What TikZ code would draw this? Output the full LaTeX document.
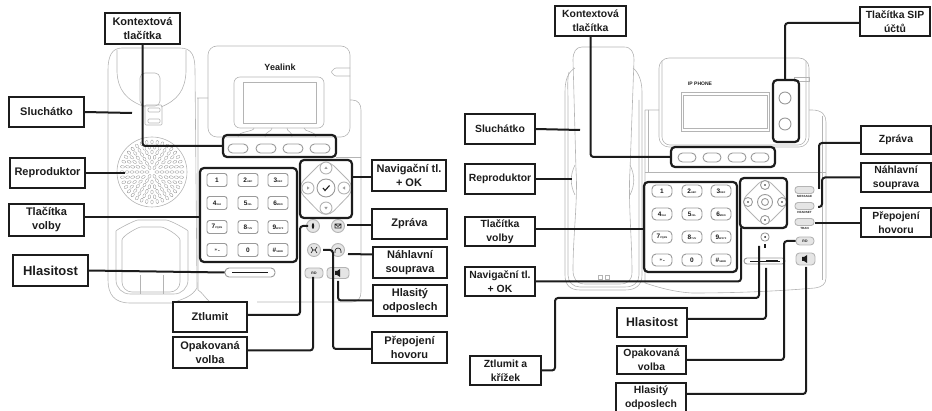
\documentclass[tikz,border=0pt]{standalone}
\usepackage{fontspec}
\setmainfont{Liberation Sans}
\usetikzlibrary{positioning}
\usetikzlibrary{calc}
\definecolor{ink}{HTML}{1C1C1C}
\definecolor{outl}{HTML}{B4B4B4}
\definecolor{keyl}{HTML}{9A9A9A}
\tikzset{
	popis/.style={draw=ink, line width=2.2pt, fill=white, text=ink, align=center, inner sep=0pt, outer sep=0pt, font=\fontsize{11}{14}\selectfont\bfseries},
	popisR/.style={popis, font=\fontsize{10.4}{14}\selectfont\bfseries},
	ramec/.style={draw=ink, line width=2.2pt, rounded corners=4pt, inner sep=0pt, outer sep=0pt},
	spoj/.style={draw=ink, line width=2pt, rounded corners=3pt},
	obrys/.style={draw=outl, line width=0.6pt},
	klavesa/.style={draw=keyl, line width=0.9pt, rounded corners=2.5pt, fill=white, inner sep=0pt, text=ink, font=\fontsize{6.5}{7}\selectfont\bfseries},
	tlac/.style={draw=keyl, line width=0.9pt, rounded corners=3.5pt, fill=white, inner sep=0pt, text=ink, font=\fontsize{3.5}{4}\selectfont\bfseries},
	kruh/.style={draw=keyl, line width=0.9pt, circle, fill=white, inner sep=0pt},
	seda/.style={fill=outl!35, draw=outl},
	znak/.style={draw=ink, line width=0.6pt},
	nadpis/.style={inner sep=0pt, text=ink, font=\fontsize{3}{3}\selectfont\bfseries},
}
\begin{document}
\begin{tikzpicture}[x=1pt,y=-1pt]
	\useasboundingbox (0,0) rectangle (932,411);

	% levy telefon - obrysy
	\draw[obrys] (122,48) -- (180,48) .. controls (192,48) and (195,56) .. (195,70) -- (197,288) .. controls (192,296) and (186,298) .. (172,303) -- (130,303) .. controls (114,303) and (108,294) .. (108,280) -- (108,70) .. controls (108,56) and (112,48) .. (122,48);
	\draw[obrys] (117,50) -- (117,72) .. controls (118,90) and (126,100) .. (145,107);
	\draw[obrys] (186,50) -- (186,72) .. controls (185,90) and (178,100) .. (161,107);
	\draw[obrys, rounded corners=5pt] (140,73) rectangle (160,106);
	\draw[obrys, rounded corners=1pt] (145,105) rectangle (162,125);
	\draw[obrys, rounded corners=1pt] (148,108) rectangle (160,112) (148,119) rectangle (160,123);
	\draw[obrys, rounded corners=14pt] (116,294) -- (116,245) .. controls (116,230) and (135,220) .. (152,220) .. controls (170,220) and (188,230) .. (188,245) -- (188,294) -- cycle;
	\draw[obrys, rounded corners=10pt] (122,292) -- (122,250) .. controls (122,236) and (138,227) .. (151,227) .. controls (165,227) and (180,236) .. (180,250) -- (180,292) -- cycle;
	\draw[obrys] (140,275) -- (140,294) (163,275) -- (163,294);
	\draw[obrys] (152,172) circle (35);
	\foreach \r/\n in {5/6,10/12,15/18,20/24,25/30,30/36}
	{\foreach \i in {1,...,\n}
		{\draw[draw=keyl, line width=0.35pt, rotate around={360/\n*\i:(152,172)}] (152+\r,172) ellipse (2.1 and 1.3);}}
	\draw[obrys] (197,98) -- (208,98) (198,98) -- (198,290) .. controls (202,292) and (205,298) .. (210,302);
	\draw[obrys, rounded corners=9pt] (208,46) rectangle (350,137);
	\draw[obrys, rounded corners=1pt] (350,68) -- (335,68) -- (331,72) -- (335,76) -- (350,76);
	\draw[obrys] (350,100) -- (352,100) .. controls (358,100) and (361,104) .. (361,110) -- (361,292) .. controls (361,298) and (358,302) .. (352,302) -- (257,302);
	\draw[obrys] (336,157) -- (361,157);
	\draw[obrys, rounded corners=6pt] (234,77) rectangle (324,128);
	\draw[obrys] (243,82) rectangle (316,123);
	\foreach \a/\b in {254/238,272/265,287/292,304/316}
	{\draw[obrys] (\a,128) .. controls (\a,132) and (\b,131) .. (\b,137);}
	\node[inner sep=0pt, text=ink, font=\fontsize{9}{10}\selectfont\bfseries] (logoL) at (280,67) {Yealink};

	% leve klavesy
	\foreach \k/\x/\y/\t in {l1/217/180/1,l2/248/180/2{\fontsize{2.5}{3}\selectfont ABC},l3/278/180/3{\fontsize{2.5}{3}\selectfont DEF},l4/217/203/4{\fontsize{2.5}{3}\selectfont GHI},l5/248/203/5{\fontsize{2.5}{3}\selectfont JKL},l6/278/203/6{\fontsize{2.5}{3}\selectfont MNO},l7/217/227/7{\fontsize{2.5}{3}\selectfont PQRS},l8/248/227/8{\fontsize{2.5}{3}\selectfont TUV},l9/278/227/9{\fontsize{2.5}{3}\selectfont WXYZ},lh/217/250/$*$.,l0/248/250/0,lm/278/250/\#{\fontsize{2.5}{3}\selectfont SEND}}
	{\node[klavesa, minimum width=20pt, minimum height=13pt] (\k) at (\x,\y) {\t};}
	\foreach \k/\x in {ls1/238,ls2/266,ls3/293,ls4/320}
	{\node[tlac, rounded corners=4.5pt, minimum width=20pt, minimum height=9pt] (\k) at (\x,148.5) {};}
	\draw[obrys, line width=0.8pt, rounded corners=11pt] (326,158) -- (356,188) -- (326,219) -- (296,188) -- cycle;
	\node[kruh, minimum size=18pt] (lok) at (326,188) {};
	\draw[ink, line width=1.1pt] ($(lok)+(-3,0)$) -- ($(lok)+(-1,2.5)$) -- ($(lok)+(3.5,-2.5)$);
	\foreach \k/\x/\y/\a in {lnu/326/168/0,lnr/344/188/90,lnd/326/208/180,lnl/308/188/270}
	{\node[kruh, draw=outl, minimum size=12pt] (\k) at (\x,\y) {};
	 \fill[keyl, rotate around={\a:(\x,\y)}] (\x-1.6,\y+1) -- (\x+1.6,\y+1) -- (\x,\y-1.5) -- cycle;}
	\foreach \k/\x/\y in {lmut/313/226,lmsg/338/226,ltrn/314/250,lhds/338/250}
	{\node[kruh, seda, minimum size=13pt] (\k) at (\x,\y) {};}
	\fill[ink] (lmut) ellipse (1.2 and 3);
	\draw[znak] (335,224) rectangle (341,228) (335,224) -- (338,226.5) -- (341,224);
	\draw[znak] (311,247) -- (313,250) -- (311,253) (317,247) -- (315,250) -- (317,253) (313,250) -- (315,250);
	\draw[znak] (335,251) arc (180:360:3) (335,251) -- (335,253) (341,251) -- (341,253);
	\node[tlac, seda, minimum width=18pt, minimum height=10pt] (lrd) at (314,273) {RD};
	\node[tlac, seda, minimum width=22pt, minimum height=11pt] (lspk) at (338,273) {};
	\node[tlac, rounded corners=4pt, minimum width=50pt, minimum height=9pt] (lvol) at (250,272.5) {};
	\draw[ink, line width=0.5pt] (232,272.5) -- (268,272.5);
	\draw[ink, line width=1.4pt] (248,272.5) -- (264,272.5);
	\fill[ink] (335,271) rectangle (337,275) (337,271) -- (340,269) -- (340,277) -- (337,275) -- cycle;

	% pravy telefon - obrysy
	\draw[obrys] (582,47) -- (624,47) .. controls (631,47) and (634,52) .. (634,60) -- (630,170) .. controls (628,200) and (632,240) .. (632,272) .. controls (632,280) and (628,284) .. (620,284) -- (585,284) .. controls (576,284) and (573,278) .. (573,270) .. controls (573,235) and (578,200) .. (576,170) -- (573,60) .. controls (573,52) and (576,47) .. (582,47);
	\draw[obrys] (575,68) .. controls (568,72) and (565,80) .. (565,92) -- (565,275) .. controls (565,285) and (570,290) .. (580,290) -- (625,290) .. controls (636,290) and (642,285) .. (642,275) -- (642,92) .. controls (642,80) and (638,72) .. (633,68);
	\draw[obrys] (569,72) .. controls (567,80) and (568,90) .. (568,100) -- (568,275) .. controls (568,282) and (573,287) .. (580,287) -- (625,287) .. controls (634,287) and (639,282) .. (639,275) -- (639,100);
	\draw[obrys] (575,165) .. controls (570,175) and (570,185) .. (575,195) (630,165) .. controls (635,175) and (635,185) .. (630,195);
	\draw[obrys] (598,275) rectangle (602,279) (605,275) rectangle (609,279);
	\draw[obrys] (645,110) -- (659,110) (645,110) -- (645,283) .. controls (660,288) and (675,292) .. (692,293) .. controls (740,293) and (780,291) .. (815,288) .. controls (822,287) and (826,284) .. (826,278) -- (826,122) .. controls (826,115) and (822,110) .. (812,110) -- (809,110);
	\draw[obrys] (648,110) -- (648,172) (822,116) -- (822,280);
	\draw[obrys, rounded corners=10pt] (659,58) rectangle (809,147);
	\draw[obrys, rounded corners=8pt] (662,61) -- (662,145) -- (806,145) -- (806,61);
	\draw[obrys] (794,77) rectangle (809,81);
	\draw[obrys] (645,172) -- (826,172);
	\draw[obrys] (681,92) rectangle (769,131) (683,95) -- (683,128) -- (767,128) -- (767,95) -- cycle;
	\node[inner sep=0pt, text=ink, font=\fontsize{5}{5}\selectfont\bfseries] (logoR) at (700,84) {IP PHONE};
	\node[kruh, minimum size=12pt] (rs1) at (785,98) {};
	\node[kruh, minimum size=12pt] (rs2) at (785,124) {};

	% prave klavesy
	\foreach \k/\x/\y/\t in {r1/662/191/1,r2/692/191/2{\fontsize{2.5}{3}\selectfont ABC},r3/721/191/3{\fontsize{2.5}{3}\selectfont DEF},r4/662/214/4{\fontsize{2.5}{3}\selectfont GHI},r5/692/214/5{\fontsize{2.5}{3}\selectfont JKL},r6/721/214/6{\fontsize{2.5}{3}\selectfont MNO},r7/662/237/7{\fontsize{2.5}{3}\selectfont PQRS},r8/692/237/8{\fontsize{2.5}{3}\selectfont TUV},r9/721/237/9{\fontsize{2.5}{3}\selectfont WXYZ},rh/662/260/$*$.,r0/692/260/0,rm/721/260/\#{\fontsize{2.5}{3}\selectfont SEND}}
	{\node[klavesa, rounded corners=4pt, minimum width=20pt, minimum height=12pt] (\k) at (\x,\y) {\t};}
	\foreach \k/\x in {rk1/687,rk2/712,rk3/737,rk4/760}
	{\node[tlac, rounded corners=4.5pt, minimum width=18pt, minimum height=9pt] (\k) at (\x,157.5) {};}
	\draw[obrys, line width=0.8pt, rounded corners=9pt] (765,177) -- (790,202) -- (765,227) -- (740,202) -- cycle;
	\node[kruh, minimum size=15pt] (rok) at (765,202) {};
	\node[kruh, draw=keyl, minimum size=7pt] (rok2) at (765,202) {};
	\foreach \k/\x/\y in {rnu/765/185,rnd/765/220,rnl/748/202,rnr/782/202}
	{\node[kruh, minimum size=9pt] (\k) at (\x,\y) {};
	 \fill[ink] (\k) circle (0.9);}
	\foreach \k/\y/\t/\z in {rmsg/190/MESSAGE/196.5,rhds/206/HEADSET/212.5,rtrn/222/TRAN/228.5}
	{\node[tlac, rounded corners=3pt, seda, minimum width=19pt, minimum height=7pt] (\k) at (804.5,\y) {};
	 \node[nadpis] (\k t) at (804.5,\z) {\t};}
	\node[tlac, seda, minimum width=18pt, minimum height=8pt] (rrd) at (805,241) {RD};
	\node[tlac, seda, minimum width=19pt, minimum height=12pt] (rspk) at (805.5,259) {};
	\fill[ink] (802,257) rectangle (804,261) (804,257) -- (807,255) -- (807,263) -- (804,261) -- cycle;
	\node[tlac, minimum size=8pt] (rmut) at (765,237) {};
	\fill[ink] (rmut) circle (1);
	\fill[ink] (764,244) rectangle (766,248);
	\node[tlac, rounded corners=3pt, minimum width=41pt, minimum height=6pt] (rvol) at (764.5,261) {};
	\draw[ink, line width=0.5pt] (750,261) -- (780,261);
	\draw[ink, line width=1.4pt] (766,261) -- (778,261);

	% ramecky kolem skupin
	\node[ramec, minimum width=113pt, minimum height=22pt] (lSoft) at (279.5,146) {};
	\node[ramec, minimum width=97pt, minimum height=94pt] (lKeys) at (248.5,215) {};
	\node[ramec, minimum width=52pt, minimum height=58pt] (lNav) at (326,189) {};
	\node[ramec, minimum width=104pt, minimum height=20pt] (rSoft) at (723,157) {};
	\node[ramec, minimum width=93pt, minimum height=90pt] (rKeys) at (690.5,227) {};
	\node[ramec, minimum width=47pt, minimum height=50pt] (rNav) at (763.5,203) {};
	\node[ramec, minimum width=26pt, minimum height=62pt] (rSip) at (786,111) {};

	% popisky vlevo
	\node[popis, minimum width=75pt, minimum height=31pt] (lKontext) at (142.5,28.5) {Kontextová\\tlačítka};
	\node[popis, minimum width=75pt, minimum height=30pt] (lSluch) at (46.5,112) {Sluchátko};
	\node[popis, minimum width=75pt, minimum height=30pt] (lRepro) at (47.5,173) {Reproduktor};
	\node[popis, minimum width=75pt, minimum height=32pt] (lVolby) at (46.5,220) {Tlačítka\\volby};
	\node[popis, font=\fontsize{13}{15}\selectfont\bfseries, minimum width=75pt, minimum height=31pt] (lHlas) at (50.5,270.5) {Hlasitost};
	\node[popis, minimum width=74pt, minimum height=30pt] (lZtl) at (210,317) {Ztlumit};
	\node[popis, minimum width=74pt, minimum height=31pt] (lOpak) at (210,352.5) {Opakovaná\\volba};
	\node[popis, minimum width=74pt, minimum height=31pt] (lNavig) at (409,175.5) {Navigační tl.\\+ OK};
	\node[popis, minimum width=75pt, minimum height=30pt] (lZpr) at (409.5,224) {Zpráva};
	\node[popis, minimum width=74pt, minimum height=31pt] (lNahl) at (410,262.5) {Náhlavní\\souprava};
	\node[popis, minimum width=74pt, minimum height=31pt] (lOdp) at (410,300.5) {Hlasitý\\odposlech};
	\node[popis, minimum width=75pt, minimum height=31pt] (lPrep) at (409.5,347.5) {Přepojení\\hovoru};

	% popisky vpravo
	\node[popisR, minimum width=71pt, minimum height=30pt] (rKontext) at (590.5,21) {Kontextová\\tlačítka};
	\node[popisR, minimum width=70pt, minimum height=30pt] (rSluch) at (500,129) {Sluchátko};
	\node[popisR, minimum width=70pt, minimum height=30pt] (rRepro) at (500,179) {Reproduktor};
	\node[popisR, minimum width=70pt, minimum height=29pt] (rVolby) at (500,231.5) {Tlačítka\\volby};
	\node[popisR, minimum width=70pt, minimum height=29pt] (rNavig) at (500,281.5) {Navigační tl.\\+ OK};
	\node[popisR, minimum width=71pt, minimum height=29pt] (rZtl) at (505.5,370.5) {Ztlumit a\\křížek};
	\node[popisR, font=\fontsize{12.3}{15}\selectfont\bfseries, minimum width=70pt, minimum height=29pt] (rHlas) at (652,322.5) {Hlasitost};
	\node[popisR, minimum width=69pt, minimum height=28pt] (rOpak) at (651.5,360) {Opakovaná\\volba};
	\node[popisR, minimum width=70pt, minimum height=30pt] (rOdp) at (651,398) {Hlasitý\\odposlech};
	\node[popisR, minimum width=70pt, minimum height=29pt] (rSipL) at (895,21.5) {Tlačítka SIP\\účtů};
	\node[popisR, minimum width=70pt, minimum height=28pt] (rZpr) at (896,140) {Zpráva};
	\node[popisR, minimum width=70pt, minimum height=29pt] (rNahl) at (896,177.5) {Náhlavní\\souprava};
	\node[popisR, minimum width=70pt, minimum height=29pt] (rPrep) at (896,222.5) {Přepojení\\hovoru};

	% volne konce
	\coordinate (c1) at (132,113);
	\coordinate (c2) at (125,173);
	\coordinate (c3) at (308,226);
	\coordinate (c4) at (313,277);
	\coordinate (c5) at (338,281);
	\coordinate (c6) at (323,250);
	\coordinate (c7) at (347,225);
	\coordinate (c8) at (348,254);
	\coordinate (c9) at (580,130);
	\coordinate (c10) at (572,179);
	\coordinate (c11) at (759,246);
	\coordinate (c12) at (766,268);
	\coordinate (c13) at (806,267);
	\coordinate (c14) at (819,189);
	\coordinate (c15) at (818,207);
	\coordinate (c16) at (815,223);

	% spojnice vlevo
	\draw[spoj] (lKontext.south) |- (lSoft.west);
	\draw[spoj] (lSluch.east) -- (c1);
	\draw[spoj] (lRepro.east) -- (c2);
	\draw[spoj] (lVolby.east) ++(0,-3) -- (lKeys.west |- 0,217);
	\draw[spoj] (lHlas.east) -- (lvol.west);
	\draw[spoj] (lZtl.east) ++(0,-2) -- (300,315) -- (300,226) -- (c3);
	\draw[spoj] (lOpak.east) ++(0,-2) -- (313,350.5) -- (c4);
	\draw[spoj] (lNavig.west) ++(0,2) -- (lNav.east |- 0,177.5);
	\draw[spoj] (lZpr.west) ++(0,1) -- (c7);
	\draw[spoj] (lNahl.west) ++(0,-8) -- (c8);
	\draw[spoj] (lOdp.west) -- (338,300.5) -- (c5);
	\draw[spoj] (lPrep.west) ++(0,1.5) -- (333,349) -- (333,250) -- (c6);

	% spojnice vpravo
	\draw[spoj] (rKontext.south) |- (rSoft.west);
	\draw[spoj] (rSluch.east) -- (c9);
	\draw[spoj] (rRepro.east) -- (c10);
	\draw[spoj] (rVolby.east) ++(0,-2.5) -- (rKeys.west |- 0,229);
	\draw[spoj] (rNavig.east) -- (741,281.5) -- (741,228);
	\draw[spoj] (rZtl.east) -- (555,370.5) -- (555,298) -- (759,298) -- (c11);
	\draw[spoj] (rHlas.east) ++(0,-3.5) -- (766,319) -- (c12);
	\draw[spoj] (rOpak.east) -- (784,360) -- (784,241) -- (rrd.west);
	\draw[spoj] (rOdp.east) ++(0,-4) -- (806,394) -- (c13);
	\draw[spoj] (rSipL.west) ++(0,1.5) -- (785,23) -- (785,80);
	\draw[spoj] (rZpr.west) ++(0,3) -- (819,143) -- (c14);
	\draw[spoj] (rNahl.west) -- (822,177.5) -- (822,207) -- (c15);
	\draw[spoj] (rPrep.west) ++(0,0.5) -- (c16);
\end{tikzpicture}
\end{document}
